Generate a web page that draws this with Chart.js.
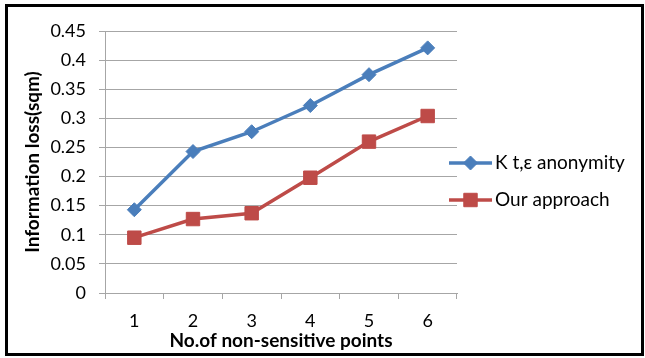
<!DOCTYPE html>
<html>
<head>
<meta charset="utf-8">
<script src="https://cdn.jsdelivr.net/npm/chart.js@4.4.0/dist/chart.umd.min.js"></script>
<style>
  body { margin: 0; background: #fff; }
  #wrap { position: absolute; left: 0; top: 0; width: 645px; height: 358px; }
  #frame { position: absolute; left: 5px; top: 4px; width: 639px; height: 352px;
           box-sizing: border-box; border: 3px solid #000; pointer-events: none; }
</style>
</head>
<body>
<div id="wrap">
  <canvas id="chart" width="645" height="358"></canvas>
  <div id="frame"></div>
</div>
<script>
// datos
const categorias = ['1', '2', '3', '4', '5', '6'];
const kAnonimato = [0.143, 0.243, 0.277, 0.322, 0.375, 0.421];
const nuestro = [0.095, 0.127, 0.137, 0.198, 0.260, 0.304];
const nombres = ['K t,ε anonymity', 'Our approach'];

const azul = '#4a7ebb';
const rojo = '#be4b48';
const gris = '#a6a6a6';
const fuente = 'Lato, "Open Sans", sans-serif';

// leyenda dibujada a mano: linea con marcador, como en Excel
const leyenda = {
    id: 'leyenda',
    afterDraw(chart) {
        const ctx = chart.ctx;
        const x0 = 449, x1 = 492;
        const filas = [163, 200];
        chart.data.datasets.forEach((ds, i) => {
            const y = filas[i];
            ctx.save();
            ctx.strokeStyle = ds.borderColor;
            ctx.lineWidth = 3.5;
            ctx.beginPath();
            ctx.moveTo(x0, y);
            ctx.lineTo(x1, y);
            ctx.stroke();
            ctx.fillStyle = ds.backgroundColor;
            ctx.strokeStyle = ds.borderColor;
            ctx.lineWidth = 1;
            Chart.helpers.drawPoint(ctx, {
                pointStyle: ds.pointStyle,
                radius: ds.pointRadius,
                rotation: 0,
                borderWidth: 1
            }, (x0 + x1) / 2, y);
            ctx.fillStyle = '#000';
            ctx.font = '19px ' + fuente;
            ctx.textBaseline = 'middle';
            ctx.fillText(ds.label, x1 + 3, y);
            ctx.restore();
        });
    }
};

new Chart(document.getElementById('chart'), {
    type: 'line',
    plugins: [leyenda],
    data: {
        labels: categorias,
        datasets: [
            {
                label: nombres[0],
                data: kAnonimato,
                borderColor: azul,
                backgroundColor: azul,
                borderWidth: 3.5,
                pointStyle: 'rectRot',
                pointRadius: 7,
                pointBorderWidth: 1,
                tension: 0
            },
            {
                label: nombres[1],
                data: nuestro,
                borderColor: rojo,
                backgroundColor: rojo,
                borderWidth: 3.5,
                pointStyle: 'rect',
                pointRadius: 9.5,
                pointBorderWidth: 1,
                tension: 0
            }
        ]
    },
    options: {
        responsive: false,
        animation: false,
        layout: { padding: { top: 31, right: 188, left: 0, bottom: 0 } },
        plugins: {
            legend: { display: false },
            tooltip: { enabled: false }
        },
        scales: {
            x: {
                offset: true,
                afterFit: (s) => { s.height = 65; },
                grid: {
                    offset: true,
                    drawOnChartArea: false,
                    drawTicks: true,
                    tickLength: 6,
                    color: gris
                },
                border: { color: gris },
                ticks: { color: '#000', padding: 11, font: { family: fuente, size: 18 } },
                title: {
                    display: true,
                    text: 'No.of non-sensitive points',
                    color: '#000',
                    padding: { top: 0, bottom: 6 },
                    font: { family: fuente, size: 19, weight: 'bold' }
                }
            },
            y: {
                min: 0,
                max: 0.45,
                afterFit: (s) => { s.width = 105; },
                grid: { color: gris, tickLength: 6 },
                border: { color: gris },
                ticks: {
                    stepSize: 0.05,
                    color: '#000',
                    padding: 13,
                    font: { family: fuente, size: 18 },
                    callback: (v) => Math.round(v * 100) / 100
                },
                title: {
                    display: true,
                    text: 'Information loss(sqm)',
                    color: '#000',
                    padding: { top: 21, bottom: 0 },
                    font: { family: fuente, size: 19, weight: 'bold' }
                }
            }
        }
    }
});
</script>
</body>
</html>
